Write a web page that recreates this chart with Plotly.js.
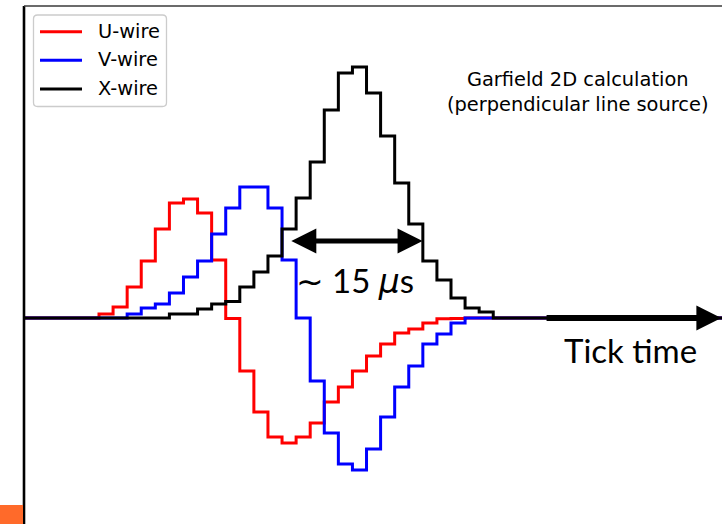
<!DOCTYPE html>
<html>
<head>
<meta charset="utf-8">
<script src="https://cdn.plot.ly/plotly-3.0.1.min.js"></script>
<style>
  html, body { margin: 0; padding: 0; background: #ffffff; }
  #chart { width: 722px; height: 524px; }
</style>
</head>
<body>
<div id="chart"></div>
<script>
// Tick bins (step edges); the outer two points pad the flat baseline on both sides
const ticks = [-6, 0, 1, 2, 3, 4, 5, 6, 7, 8, 9, 10, 11, 12, 13, 14, 15, 16, 17, 18, 19,
               20, 21, 22, 23, 24, 25, 26, 27, 28, 29, 46];

// Induced signal per tick (arbitrary units), Garfield 2D, perpendicular line source
const uWire = [0, 1.6, 4.4, 12.4, 22.8, 35.6, 46, 47.6, 42, 23.2, -0.2, -21.2, -37.6, -47.6,
               -50, -47.6, -42, -33.6, -27.6, -21.2, -15.2, -10.4, -6, -4.4, -2, -0.3, -0.2,
               0, 0, 0, 0, 0];
const vWire = [0, 0, 0, 1.6, 4, 5.6, 10, 16.4, 22.8, 33.6, 44, 52.4, 52.4, 44, 23.2, 0,
               -25.2, -46, -58.4, -60.8, -52.4, -39.6, -27.6, -19.2, -10.4, -6.4, -2,
               0, 0, 0, 0, 0];
const xWire = [0, 0, 0, 0, 0, 0, 1.6, 1.6, 3.6, 5.6, 6.6, 12.4, 18.4, 24.8, 35.6, 48, 62.4,
               83.2, 98, 100.4, 90, 72.8, 54, 37.6, 22.8, 15.2, 8, 4, 2.4, 0, 0, 0];

const seriesNames = ['U-wire', 'V-wire', 'X-wire'];
const seriesColors = ['#ff0000', '#0000ff', '#000000'];
const seriesValues = [uWire, vWire, xWire];

// Width marker on the collection signal (tick units) and its label
const widthStart = 13.55;
const widthEnd = 22.98;
const widthLevel = 30.8;
const widthLabel = '<span style="font-family:DejaVu Sans">\u223C</span> 15 ' +
                   '<span style="font-family:DejaVu Sans"><i>\u03BC</i></span>s';

// Time axis arrow along the baseline
const timeArrowStart = 31.68;
const timeArrowEnd = 44.2;

// Figure geometry (pixels) used to place the frame, legend box and notes
const W = 722, H = 524, ML = 24, MT = 6;
const PW = W - ML, PH = H - MT;
const fx = px => (px - ML) / PW;
const fy = py => 1 - (py - MT) / PH;

const traces = seriesValues.map((vals, i) => ({
  type: 'scatter',
  mode: 'lines',
  name: seriesNames[i],
  x: ticks,
  y: vals,
  line: { color: seriesColors[i], width: 3, shape: 'hv' },
  hoverinfo: 'skip'
}));

// Legend box with slightly rounded corners
function roundedBox(x0, y0, x1, y1, r) {
  const X0 = fx(x0), X1 = fx(x1), Y0 = fy(y0), Y1 = fy(y1);
  const rx = r / PW, ry = r / PH;
  return `M ${X0 + rx} ${Y0} L ${X1 - rx} ${Y0} Q ${X1} ${Y0} ${X1} ${Y0 - ry} ` +
         `L ${X1} ${Y1 + ry} Q ${X1} ${Y1} ${X1 - rx} ${Y1} L ${X0 + rx} ${Y1} ` +
         `Q ${X0} ${Y1} ${X0} ${Y1 + ry} L ${X0} ${Y0 - ry} Q ${X0} ${Y0} ${X0 + rx} ${Y0} Z`;
}

const legendRows = [31.7, 60.3, 89];
const legendShapes = seriesNames.map((n, i) => ({
  type: 'line', xref: 'paper', yref: 'paper',
  x0: fx(40), x1: fx(82), y0: fy(legendRows[i]), y1: fy(legendRows[i]),
  line: { color: seriesColors[i], width: 3 }
}));
const legendLabels = seriesNames.map((n, i) => ({
  xref: 'paper', yref: 'paper', x: fx(96), y: fy(legendRows[i] - 0.5),
  xanchor: 'left', yanchor: 'middle', text: n, showarrow: false,
  font: { family: 'DejaVu Sans', size: 19.4, color: '#000000' }
}));

const layout = {
  width: W,
  height: H,
  margin: { l: ML, r: 0, t: MT, b: 0, pad: 0 },
  paper_bgcolor: '#ffffff',
  plot_bgcolor: '#ffffff',
  showlegend: false,
  xaxis: { range: [-5.327, 44.247], visible: false, fixedrange: true },
  yaxis: { range: [-82.4, 124.8], visible: false, fixedrange: true },
  shapes: [
    { type: 'line', xref: 'paper', yref: 'paper', x0: 0, x1: 0, y0: -0.02, y1: 1,
      line: { color: '#000000', width: 2.6 } },
    { type: 'line', xref: 'paper', yref: 'paper', x0: 0, x1: 1.02, y0: 1, y1: 1,
      line: { color: '#3a3a3a', width: 1.3 } },
    { type: 'rect', xref: 'paper', yref: 'paper', x0: fx(0), x1: fx(23), y0: -0.02, y1: fy(505),
      fillcolor: '#ff6a2a', line: { width: 0 } },
    { type: 'path', xref: 'paper', yref: 'paper', path: roundedBox(33.5, 15, 166.5, 106.5, 4),
      fillcolor: 'rgba(255,255,255,0.8)', line: { color: '#cccccc', width: 1.3 } },
    ...legendShapes
  ],
  annotations: [
    ...legendLabels,
    { xref: 'paper', yref: 'paper', x: fx(577), y: fy(92), xanchor: 'center', yanchor: 'middle',
      text: 'Garfield 2D calculation<br>(perpendicular line source)', showarrow: false,
      align: 'center',
      font: { family: 'DejaVu Sans', size: 19.4, color: '#000000' } },
    { xref: 'x', yref: 'y', x: widthEnd, y: widthLevel, axref: 'x', ayref: 'y',
      ax: widthStart, ay: widthLevel, text: '', showarrow: true,
      arrowside: 'end+start', arrowhead: 2, startarrowhead: 2,
      arrowwidth: 5, arrowsize: 1, startarrowsize: 1, arrowcolor: '#000000' },
    { xref: 'x', yref: 'y', x: 18.18, y: 15.2, xanchor: 'center', yanchor: 'middle',
      text: widthLabel, showarrow: false,
      font: { family: 'Lato', size: 33, color: '#000000' } },
    { xref: 'x', yref: 'y', x: timeArrowEnd, y: 0, axref: 'x', ayref: 'y',
      ax: timeArrowStart, ay: 0, text: '', showarrow: true,
      arrowhead: 2, arrowwidth: 6, arrowsize: 0.833, arrowcolor: '#000000' },
    { xref: 'x', yref: 'y', x: 37.75, y: -12.8, xanchor: 'center', yanchor: 'middle',
      text: 'Tick time', showarrow: false,
      font: { family: 'Lato', size: 33, color: '#000000' } }
  ]
};

Plotly.newPlot('chart', traces, layout, { staticPlot: true, displayModeBar: false });
</script>
</body>
</html>
